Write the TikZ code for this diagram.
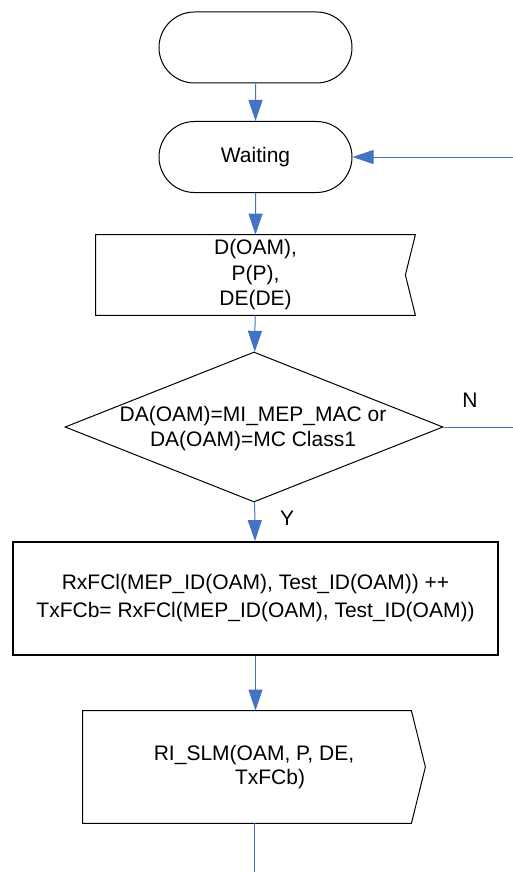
\documentclass[tikz,border=0pt]{standalone}
\usepackage{fontspec}
\setmainfont{Liberation Sans}
\usetikzlibrary{arrows.meta,positioning,shapes.geometric,shapes.misc}
\definecolor{flowblue}{RGB}{68,114,196}
\tikzset{
  base/.style={font=\fontsize{10.5}{12.5}\selectfont, align=center, inner sep=0pt},
  termbox/.style={base, rounded rectangle, draw, line width=0.5pt,
    minimum width=96.5pt, minimum height=35.5pt},
  sigbox/.style={base, rectangle},
  outln/.style={line width=0.5pt, line join=miter},
  decide/.style={base, diamond, draw, line width=0.5pt,
    minimum width=189pt, minimum height=75pt},
  procbox/.style={base, rectangle, draw, line width=0.9pt,
    minimum width=242.5pt, minimum height=56.5pt},
  flowln/.style={flowblue, line width=0.5pt},
  flow/.style={flowln, -{Triangle[length=10.5pt,width=7pt]}},
}

\begin{document}
\begin{tikzpicture}[x=0.5pt, y=-0.5pt]
  \useasboundingbox (0,0) rectangle (513,872);
  % --- terminators ---
  \node[termbox] (start) at (255.5,47.5) {};
  \node[termbox] (wait) at (255.5,157) {Waiting};
  % --- receive D, P, DE ---
  \node[sigbox, minimum width=159.5pt, minimum height=40pt,
    font=\fontsize{10.5}{12.75}\selectfont] (rcv) at (255.5,275)
    {D(OAM),\\P(P),\\DE(DE)};
  \draw[outln] (rcv.north west) -- (rcv.north east) -- ([xshift=-5pt]rcv.east)
    -- (rcv.south east) -- (rcv.south west) -- cycle;
  % --- decision ---
  \node[decide] (dec) at (254,427) {};
  \node[base] (dectxt) at (253,429) {DA(OAM)=MI\_MEP\_MAC or\\DA(OAM)=MC Class1};
  \node[base] (nlab) at (470,400) {N};
  \node[base] (ylab) at (287,518) {Y};
  % --- counter update ---
  \node[procbox, font=\fontsize{10.5}{14}\selectfont] (upd) at (255.5,598.5)
    {RxFCl(MEP\_ID(OAM), Test\_ID(OAM)) ++\\TxFCb= RxFCl(MEP\_ID(OAM), Test\_ID(OAM))};
  % --- send RI_SLM ---
  \node[sigbox, minimum width=171pt, minimum height=56pt,
    font=\fontsize{10.5}{12}\selectfont] (snd) at (254,767)
    {RI\_SLM(OAM, P, DE,\\\hspace*{16pt}TxFCb)};
  \draw[outln] (snd.north west) -- ([xshift=-7pt]snd.north east) -- (snd.east)
    -- ([xshift=-7pt]snd.south east) -- (snd.south west) -- cycle;
  % --- connectors ---
  \coordinate (loop) at (530,427);
  \coordinate (out) at (254,880);
  \draw[flow] (start) -- (wait);
  \draw[flow] (wait) -- (rcv);
  \draw[flow] (rcv) -- (dec);
  \draw[flow] (dec) -- (upd);
  \draw[flow] (upd.south) -- (upd.south |- snd.north);
  \draw[flowln] (snd.south) -- (snd.south |- out);
  \draw[flow] (dec.east) -- (loop) |- (wait.east);
\end{tikzpicture}
\end{document}
